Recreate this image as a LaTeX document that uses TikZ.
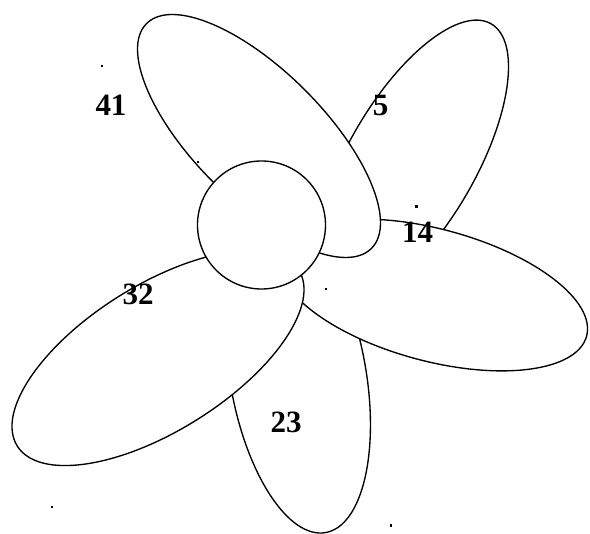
\documentclass[tikz,border=0pt]{standalone}
\usepackage{fontspec}
\setmainfont{Liberation Serif}
\usetikzlibrary{shapes.geometric}
\begin{document}
\begin{tikzpicture}[x=1pt,y=1pt,
  petal/.style={draw=black, fill=white, line width=1.35pt, ellipse, inner sep=0pt},
  lbl/.style={font=\fontsize{31}{31}\selectfont\bfseries, inner sep=0pt},
  dotmark/.style={rectangle, fill=black, inner sep=0pt, minimum size=2.2pt}]
\useasboundingbox (0,0) rectangle (590,-534);
% petals (drawn bottom to top)
\node[petal, minimum width=318pt, minimum height=128pt, rotate=60] (p5) at (411.6,-161.5) {};
\node[petal, minimum width=318pt, minimum height=136pt, rotate=100] (p23) at (298,-376) {};
\node[petal, minimum width=318pt, minimum height=132pt, rotate=-15] (p14) at (433,-295) {};
\node[petal, minimum width=332pt, minimum height=146pt, rotate=32] (p32) at (158,-358) {};
\node[petal, minimum width=318pt, minimum height=130pt, rotate=-45] (p41) at (259,-136) {};
% centre
\node[draw=black, fill=white, line width=1.35pt, circle, inner sep=0pt, minimum size=128pt] (c) at (261.5,-225) {};
% labels
\node[lbl] (l41) at (111,-105) {41};
\node[lbl] (l5) at (380.5,-106) {5};
\node[lbl] (l14) at (417.5,-232.5) {14};
\node[lbl] (l32) at (138,-294) {32};
\node[lbl] (l23) at (286,-422.5) {23};
% small dots
\node[dotmark] (d1) at (101.7,-66) {};
\node[dotmark] (d2) at (198,-162) {};
\node[dotmark] (d3) at (416.5,-206.5) {};
\node[dotmark] (d4) at (326,-289) {};
\node[dotmark] (d5) at (51.7,-506.7) {};
\node[dotmark] (d6) at (391,-525.5) {};
\end{tikzpicture}
\end{document}
